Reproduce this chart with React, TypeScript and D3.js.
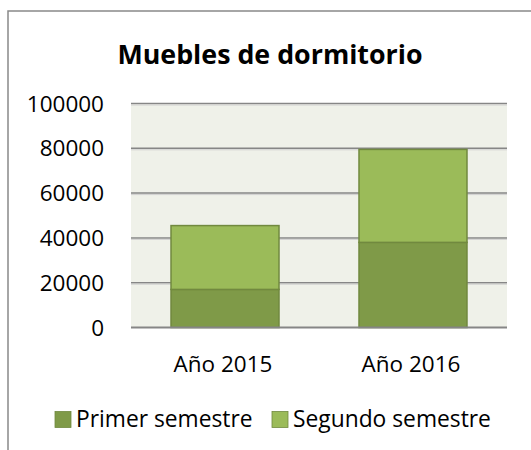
import React from 'react';
import * as d3 from 'd3';

const categories = ['Año 2015', 'Año 2016'];
const seriesNames = ['Primer semestre', 'Segundo semestre'];
const primerSemestre = [17000, 38000];
const segundoSemestre = [28500, 41500];
const yTicks = [0, 20000, 40000, 60000, 80000, 100000];

const colors = ['#7F9A48', '#9BBB59'];
const W = 531;
const H = 450;
const font = "'Open Sans', sans-serif";

export default function App() {
  const x = d3.scaleBand<string>()
    .domain(categories)
    .range([131, 507])
    .paddingInner(0.4255)
    .paddingOuter(0.2128);
  const y = d3.scaleLinear().domain([0, 100000]).range([327.5, 103.5]);

  const rows = categories.map((c, i) => ({
    cat: c,
    'Primer semestre': primerSemestre[i],
    'Segundo semestre': segundoSemestre[i],
  }));
  const stacked = d3.stack<any>().keys(seriesNames)(rows);

  return (
    <svg width={W} height={H} style={{ position: 'absolute', left: 0, top: 0 }} fontFamily={font}>
      <rect x={0} y={0} width={W} height={H} fill="#fff" />
      {/* chart frame, cut off on the right and bottom */}
      <rect x={8} y={11} width={700} height={700} fill="none" stroke="#898989" strokeWidth={1.5} />
      <text x={270} y={64} textAnchor="middle" fontSize={26.8} fontWeight="bold" fill="#000">
        Muebles de dormitorio
      </text>

      <rect x={131} y={y(100000)} width={376} height={y(0) - y(100000)} fill="#EFF1E9" />
      {yTicks.map(t => (
        <g key={t}>
          {t > 0 && (
            <>
              <line x1={131} x2={507} y1={y(t)} y2={y(t)} stroke="#868686" strokeWidth={1.5} />
              <line x1={131} x2={507} y1={y(t) + 1.5} y2={y(t) + 1.5} stroke="#D0D0D0" strokeWidth={1} />
            </>
          )}
          <text x={104} y={y(t)} dy="0.36em" textAnchor="end" fontSize={22.5} fill="#000">{t}</text>
        </g>
      ))}

      {stacked.map((s, si) => (
        <g key={s.key}>
          {s.map((d, i) => (
            <rect key={i}
              x={x(categories[i])!}
              y={y(d[1])}
              width={x.bandwidth()}
              height={y(d[0]) - y(d[1])}
              fill={colors[si]}
              stroke="#71893F"
              strokeWidth={1.5} />
          ))}
        </g>
      ))}

      <line x1={131} x2={507} y1={y(0)} y2={y(0)} stroke="#868686" strokeWidth={2} />

      {categories.map(c => (
        <text key={c} x={x(c)! + x.bandwidth() / 2 - 2} y={372} textAnchor="middle" fontSize={22.5} fill="#000">{c}</text>
      ))}

      {seriesNames.map((n, i) => {
        const lx = i === 0 ? 55 : 272;
        return (
          <g key={n}>
            <rect x={lx} y={411.5} width={16} height={16} fill={colors[i]} stroke="#71893F" strokeWidth={0.8} />
            <text x={lx + 21} y={427} fontSize={22.8} fill="#000">{n}</text>
          </g>
        );
      })}
    </svg>
  );
}
